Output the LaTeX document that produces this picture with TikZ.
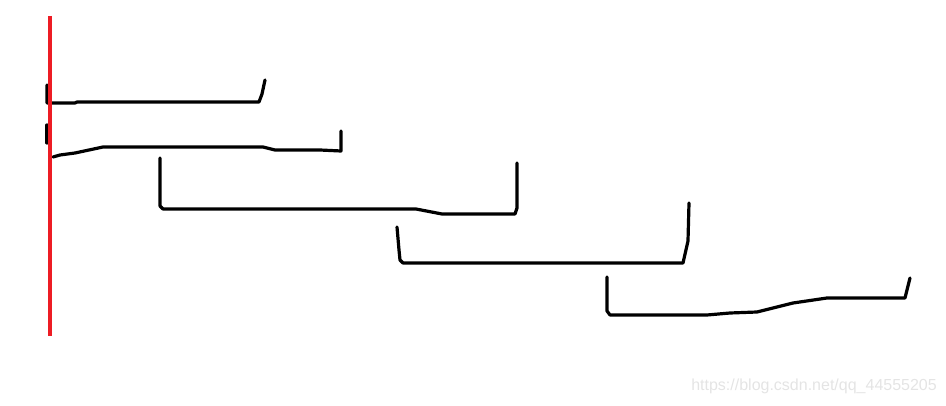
\documentclass[tikz,border=0pt]{standalone}
\usepackage{fontspec}
\setmainfont{Liberation Sans}
\definecolor{penred}{HTML}{ED1C24}
\definecolor{markgray}{HTML}{E4E4E4}

\begin{document}
\begin{tikzpicture}[x = 1pt, y = -1pt,
    bracket/.style = {line width = 3.2pt, line cap = round, line join = round},
    rail/.style = {penred, line width = 3.6pt}]
      \useasboundingbox (0, 0) rectangle (946, 406);
      \draw [bracket] (47, 85) -- (47, 103) -- (75, 103) -- (77, 102) -- (259, 102) -- (262, 94) -- (265, 80);
      \draw [bracket] (47, 125) -- (47, 143);
      \draw [bracket] (53, 157) -- (60, 155) -- (75, 153) -- (103, 147) -- (263, 147) -- (275, 150) -- (320, 150) -- (341, 151) -- (341, 131);
      \draw [rail] (50, 16) -- (50, 336);
      \draw [bracket] (160, 158) -- (160, 206) -- (163, 209) -- (416, 209) -- (442, 214) -- (515, 214) -- (517, 208) -- (517, 163);
      \draw [bracket] (397, 227) -- (399, 250) -- (400, 260) -- (403, 263) -- (683, 263) -- (688, 241) -- (689, 203);
      \draw [bracket] (607, 277) -- (607, 311) -- (610, 315) -- (707, 315) -- (730, 313) -- (757, 312) -- (793, 303) -- (827, 298) -- (905, 298) -- (910, 278);
      \node [markgray, anchor = east, font = \fontsize{16}{19}\selectfont, inner sep = 0pt] (mark) at (937, 386) {https://blog.csdn.net/qq\_44555205};
    \end{tikzpicture}
\end{document}
